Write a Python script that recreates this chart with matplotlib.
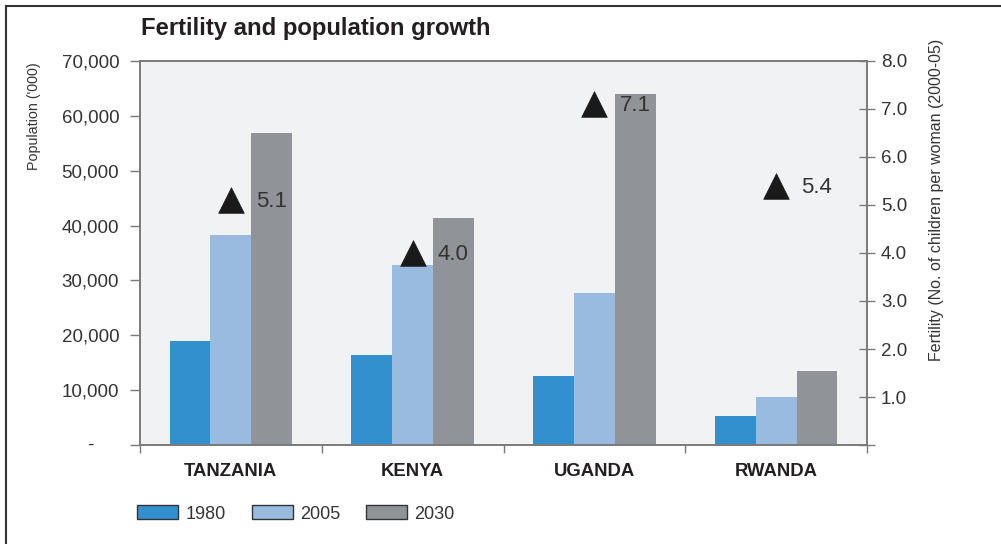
import matplotlib
matplotlib.use("Agg")
import matplotlib.pyplot as plt
from matplotlib.lines import Line2D
from matplotlib.patches import Patch

categories = ["TANZANIA", "KENYA", "UGANDA", "RWANDA"]
years = ["1980", "2005", "2030"]
pop_1980 = [19000, 16400, 12600, 5300]
pop_2005 = [38300, 32800, 27700, 8800]
pop_2030 = [56900, 41300, 64000, 13500]
fertility = [5.1, 4.0, 7.1, 5.4]
fert_labels = ["5.1", "4.0", "7.1", "5.4"]
left_ticks = [0, 10000, 20000, 30000, 40000, 50000, 60000, 70000]
left_tick_labels = ["", "10,000", "20,000", "30,000", "40,000", "50,000", "60,000", "70,000"]
zero_label = "-"
right_ticks = [0, 1, 2, 3, 4, 5, 6, 7, 8]
right_tick_labels = ["", "1.0", "2.0", "3.0", "4.0", "5.0", "6.0", "7.0", "8.0"]

colors = ["#3390CF", "#9ABBE0", "#909398"]
spine_col = "#7a7a7a"
text_col = "#231f20"
lab_col = "#333333"

plt.rcParams['font.family'] = ['Liberation Sans', 'DejaVu Sans']

W, H = 1001, 544
fig = plt.figure(figsize=(W/100, H/100), dpi=100)
ax = fig.add_axes([140/W, 1-445/H, (867-140)/W, (445-61)/H])
ax.set_facecolor("#F1F2F4")

bw = 0.225
series = [pop_1980, pop_2005, pop_2030]
for i, vals in enumerate(series):
    ax.bar([c + (i-1)*bw for c in range(len(categories))], vals, width=bw,
           color=colors[i], linewidth=0, zorder=2)

ax.set_xlim(-0.5, 3.5)
ax.set_ylim(0, 70000)
ax.set_yticks(left_ticks)
ax.set_yticklabels(left_tick_labels, fontsize=13.5, color=lab_col)
ax.tick_params(axis='y', direction='out', length=7, color=spine_col, width=1, pad=8)
ax.text(-0.069, 0, zero_label, transform=ax.transAxes, fontsize=13.5, color=lab_col,
        ha='center', va='center')
ax.set_xticks(range(len(categories)))
ax.set_xticklabels(categories, fontsize=13.3, fontweight='bold', color=text_col)
ax.tick_params(axis='x', which='major', length=0, pad=13)
ax.set_xticks([-0.5, 0.5, 1.5, 2.5, 3.5], minor=True)
ax.tick_params(axis='x', which='minor', direction='out', length=6, color=spine_col, width=1)
for s in ax.spines.values():
    s.set_color(spine_col)
    s.set_linewidth(1.2)
ax.set_ylabel("Population ('000)", fontsize=10.3, color=lab_col)
ax.yaxis.set_label_coords(-0.136, 0.857)

ax2 = ax.twinx()
ax2.set_ylim(0, 8)
ax2.set_yticks(right_ticks)
ax2.set_yticklabels(right_tick_labels, fontsize=13.5, color=lab_col)
ax2.tick_params(axis='y', direction='inout', length=12, color=spine_col, width=1, pad=4)
for s in ax2.spines.values():
    s.set_color(spine_col)
    s.set_linewidth(1.2)
ax2.set_ylabel("Fertility (No. of children per woman (2000-05)", fontsize=11.5,
               color=lab_col)
ax2.yaxis.set_label_coords(1.0853, 0.638)

ax2.scatter(range(len(categories)), fertility, marker='^', s=340, color="#1a1a1a",
            edgecolor="#1a1a1a", linewidth=0.5, zorder=5)
for i, (f, lab) in enumerate(zip(fertility, fert_labels)):
    ax2.annotate(lab, (i, f), xytext=(18, -1), textcoords='offset points',
                 fontsize=16, color=lab_col, va='center', ha='left', zorder=6)

fig.text(141/W, 1-28/H, "Fertility and population growth", fontsize=17.2,
         fontweight='bold', color=text_col, va='center', ha='left')

handles = [Patch(facecolor=colors[i], edgecolor="#333333", linewidth=1) for i in range(3)]
fig.legend(handles, years, loc='center left', bbox_to_anchor=(137/W, 1-514/H),
           ncol=3, frameon=False, fontsize=13, handlelength=2.27, handleheight=0.78,
           handletextpad=0.4, columnspacing=1.45, borderpad=0, borderaxespad=0,
           labelcolor=lab_col)

fig.add_artist(Line2D([5.5/W, 5.5/W], [0, 1-5.5/H], color="#333333", lw=1.5,
                      transform=fig.transFigure))
fig.add_artist(Line2D([5.5/W, 1], [1-5.5/H, 1-5.5/H], color="#333333", lw=1.5,
                      transform=fig.transFigure))

fig.savefig("out.png", dpi=100)
